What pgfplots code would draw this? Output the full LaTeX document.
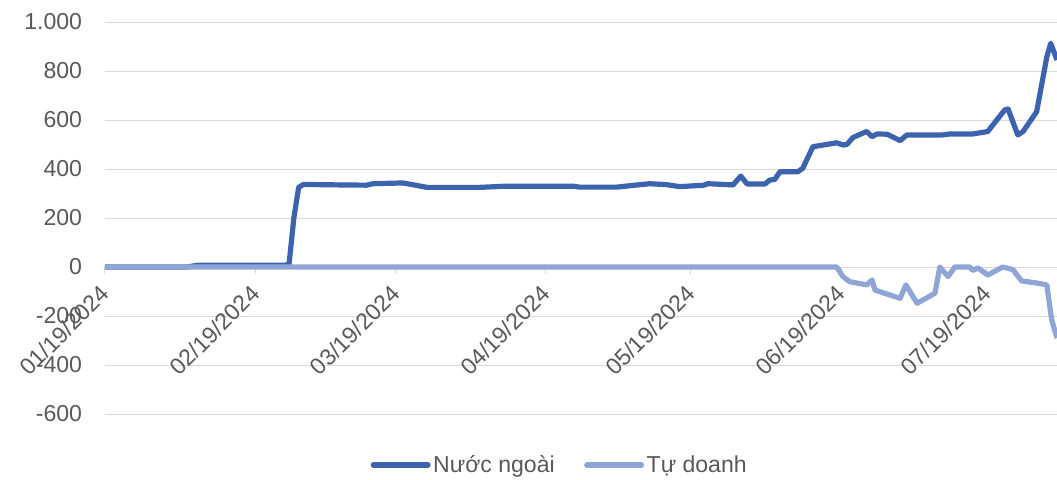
\documentclass[border=0pt]{standalone}
\usepackage{pgfplots}
\pgfplotsset{compat=1.18}
\usepackage{fontspec}
\setmainfont{Liberation Sans}
\definecolor{nn}{HTML}{3C64AE}
\definecolor{td}{HTML}{8EA5D6}
\definecolor{gridc}{HTML}{D9D9D9}
\definecolor{txt}{HTML}{595959}
\begin{document}
\begin{tikzpicture}
\begin{axis}[
  name=ax,
  scale only axis,
  width=714pt, height=294pt,
  xmin=0, xmax=196.6,
  ymin=-600, ymax=1000,
  axis x line*=middle,
  axis y line*=left,
  axis line style={-},
  x axis line style={draw=gridc, line width=0.75pt},
  y axis line style={draw=none},
  ytick={-600,-400,-200,0,200,400,600,800,1000},
  yticklabels={-600,-400,-200,0,200,400,600,800,1.000},
  xtick={0,31,60,91,121,152,182},
  xticklabels={01/19/2024,02/19/2024,03/19/2024,04/19/2024,05/19/2024,06/19/2024,07/19/2024},
  hide obscured x ticks=false,
  ymajorgrids,
  grid style={draw=gridc, line width=0.75pt},
  ytick style={draw=none},
  xtick style={draw=gridc, line width=0.75pt},
  tick align=outside,
  major tick length=5pt,
  tick label style={font=\fontsize{17.3}{20}\selectfont, text=txt},
  yticklabel style={anchor=east, inner sep=0pt, xshift=-12pt},
  xticklabel style={yshift=-11pt, xshift=1pt, rotate=45, anchor=east, inner sep=1pt},
  legend style={at={(axis description cs:0.478,-0.130)}, anchor=center, draw=none, fill=none,
    font=\fontsize{17.3}{20}\selectfont, text=txt, legend columns=2,
    /tikz/every even column/.append style={column sep=20pt}},
  legend image code/.code={\draw[#1, line cap=round] (0pt,0pt) -- (41pt,0pt);},
  legend cell align=left,
]
\addplot[color=nn, line width=3.9pt, line join=round] coordinates {
(0,0) (17,0) (19,7) (37,7) (38,10) (39,200) (40,325) (41,337)
(48.5,335) (54,334) (55.3,340) (61.5,343) (63,338) (66.5,325) (77.4,325)
(83,330) (96.6,330) (98,326) (105.7,326) (109,333) (112.5,340) (116,336)
(118.7,328) (122.9,333) (123.5,333) (124.5,340) (129.7,335) (131.3,371)
(132.6,339) (136.3,339) (137.3,355) (138.3,357) (139.4,389) (143.1,389)
(144.1,403) (146.2,491) (151.1,507) (152.4,498) (153.2,500) (154.5,529)
(157.3,553) (158.4,532) (159.4,543) (161.5,542) (164.2,516) (165.6,539)
(173,539) (174.5,543) (179.2,543) (182.3,553) (185.8,641) (186.5,645)
(188.5,539) (189.6,553) (192.4,634) (194.5,858) (195.3,913) (196.6,845)
};
\addlegendentry{Nước ngoài}
\addplot[color=td, line width=3.9pt, line join=round] coordinates {
(0,0) (151.1,0) (152.4,-39) (153.8,-60) (157.3,-73) (158.4,-53) (159,-94)
(164.2,-128) (165.4,-73) (167.7,-148) (171.4,-107) (172.4,0) (174.1,-39)
(175.5,0) (178.6,0) (179.2,-14) (180.3,-4) (182.3,-33) (185.4,0)
(187.5,-11) (189.3,-57) (192,-64) (194.5,-73) (195.5,-216) (196.6,-290)
};
\addlegendentry{Tự doanh}
\end{axis}
\pgfresetboundingbox
\path[use as bounding box] ([xshift=-78.75pt,yshift=-48.75pt]ax.south west) rectangle ([yshift=16.5pt]ax.north east);
\end{tikzpicture}
\end{document}
